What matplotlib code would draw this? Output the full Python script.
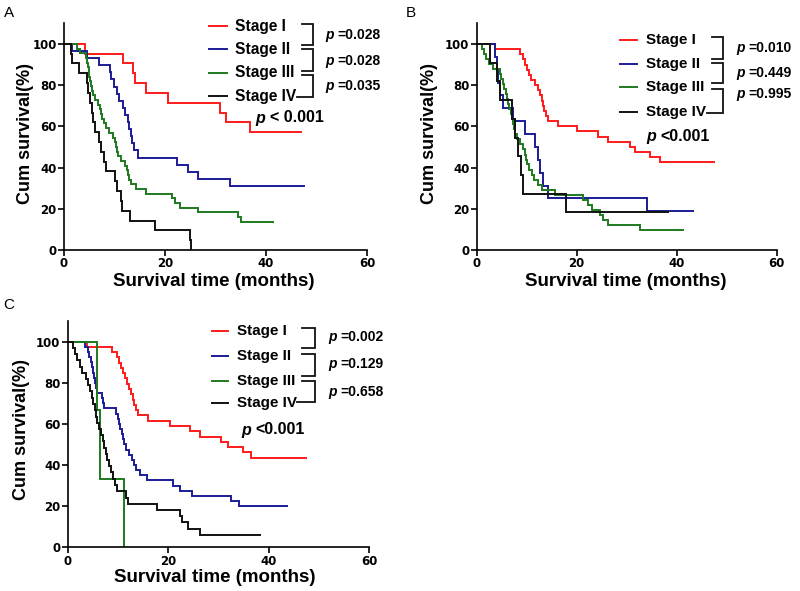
import matplotlib
matplotlib.use("Agg")
import matplotlib.pyplot as plt

plt.rcParams['font.family'] = ['Liberation Sans', 'DejaVu Sans']
plt.rcParams['font.weight'] = 'bold'

stages = ["Stage I", "Stage II", "Stage III", "Stage IV"]
colors = ["#FF1A1A", "#1C1C96", "#1E7A1E", "#111111"]
x_ticks = [0, 20, 40, 60]
y_ticks = [0, 20, 40, 60, 80, 100]

# ---------- Panel A (times in months, survival %) ----------
A_I_t = [4.2, 11.6, 13.7, 14.0, 16.3, 20.5, 30.9, 32.0, 36.8]
A_I_s = [95.2, 90.5, 85.7, 81.0, 76.2, 71.4, 66.7, 61.9, 57.1]
A_I_end = 46.9
A_II_t = [1.5, 4.5, 7.0, 9.1, 9.4, 9.9, 10.4, 10.9, 11.6, 12.1, 12.6, 12.9, 13.2, 13.5, 13.8, 14.6,
          22.3, 24.6, 26.6, 32.8]
A_II_s = [96.6, 93.1, 89.7, 86.2, 82.8, 79.3, 75.9, 72.4, 69.0, 65.5, 62.1, 58.6, 55.2, 51.7, 48.3, 44.8,
          41.4, 37.9, 34.5, 31.0]
A_II_end = 47.5
A_III_t = [2.5, 3.2, 4.3, 4.6, 4.7, 4.9, 5.0, 5.2, 5.4, 5.6, 5.8, 6.2, 6.8, 7.1, 7.3, 7.6, 7.9, 8.4, 9.0,
           9.7, 10.0, 10.2, 10.4, 10.7, 11.3, 12.0, 12.4, 12.6, 12.8, 13.3, 14.3, 16.3, 21.3, 22.0, 22.9,
           26.6, 34.5, 35.1]
A_III_s = [97.7, 95.5, 93.2, 90.9, 88.6, 86.4, 84.1, 81.8, 79.5, 77.3, 75.0, 72.7, 70.5, 68.2, 65.9, 63.6,
           61.4, 59.1, 56.8, 54.5, 52.3, 50.0, 47.7, 45.5, 43.2, 40.9, 38.6, 36.4, 34.1, 31.8, 29.5, 27.3,
           25.0, 22.7, 20.5, 18.2, 15.9, 13.6]
A_III_end = 41.3
A_IV_t = [1.3, 1.5, 3.0, 4.6, 4.8, 5.1, 5.5, 5.7, 6.1, 7.0, 7.4, 7.9, 8.3, 10.1, 10.4, 11.2, 11.4, 13.1,
          18.0, 24.9, 25.2]
A_IV_s = [95.2, 90.5, 85.7, 81.0, 76.2, 71.4, 66.7, 61.9, 57.1, 52.4, 47.6, 42.9, 38.1, 33.3, 28.6, 23.8,
          19.0, 14.3, 9.5, 4.8, 0.0]
A_IV_end = 25.2
A_pairs = ["=0.028", "=0.028", "=0.035"]
A_overall = "< 0.001"

# ---------- Panel B ----------
B_I_t = [3.7, 8.7, 9.2, 9.7, 10.1, 10.5, 10.9, 11.6, 12.3, 12.7, 13.0, 13.3, 13.5, 13.8, 14.2, 16.3,
         20.0, 24.3, 26.3, 30.7, 31.7, 34.7, 36.7]
B_I_s = [97.5, 95.0, 92.5, 90.0, 87.5, 85.0, 82.5, 80.0, 77.5, 75.0, 72.5, 70.0, 67.5, 65.0, 62.5, 60.0,
         57.5, 55.0, 52.5, 50.0, 47.5, 45.0, 42.5]
B_I_end = 47.5
B_II_t = [3.7, 4.0, 4.3, 4.7, 5.3, 7.3, 9.6, 11.6, 12.2, 12.7, 13.2, 14.3, 34.0]
B_II_s = [93.75, 87.5, 81.25, 75.0, 68.75, 62.5, 56.25, 50.0, 43.75, 37.5, 31.25, 25.0, 18.75]
B_II_end = 43.3
B_III_t = [1.0, 1.4, 1.9, 2.5, 3.2, 4.6, 4.9, 5.2, 5.5, 5.8, 6.0, 6.2, 6.5, 6.8, 7.0, 7.2, 7.4, 7.6, 8.0,
           8.6, 9.3, 9.6, 9.8, 10.0, 10.5, 11.0, 11.5, 12.3, 13.0, 15.7, 21.3, 22.3, 23.0, 24.7, 25.3,
           26.3, 32.7]
B_III_s = [97.6, 95.1, 92.7, 90.2, 87.8, 85.4, 82.9, 80.5, 78.0, 75.6, 73.2, 70.7, 68.3, 65.9, 63.4, 61.0,
           58.5, 56.1, 53.7, 51.2, 48.8, 46.3, 43.9, 41.5, 39.0, 36.6, 34.1, 31.7, 29.3, 26.8, 24.4, 22.0,
           19.5, 17.1, 14.6, 12.2, 9.8]
B_III_end = 41.3
B_IV_t = [2.7, 4.0, 4.7, 7.0, 7.7, 8.2, 8.8, 9.2, 17.8]
B_IV_s = [90.9, 81.8, 72.7, 63.6, 54.5, 45.5, 36.4, 27.3, 18.2]
B_IV_end = 38.3
B_pairs = ["=0.010", "=0.449", "=0.995"]
B_overall = "<0.001"

# ---------- Panel C ----------
C_I_t = [3.8, 8.8, 9.8, 10.2, 10.6, 11.0, 11.5, 11.9, 12.3, 12.7, 13.0, 13.3, 13.6, 13.9, 15.9, 20.3,
         24.3, 26.3, 30.6, 31.9, 34.9, 36.6]
C_I_s = [97.4, 94.9, 92.3, 89.7, 87.2, 84.6, 82.1, 79.5, 76.9, 74.4, 71.8, 69.2, 66.7, 64.1, 61.5, 59.0,
         56.4, 53.8, 51.3, 48.7, 46.2, 43.6]
C_I_end = 47.4
C_II_t = [3.5, 4.0, 4.3, 4.6, 4.9, 5.1, 5.3, 5.5, 5.7, 5.9, 6.8, 7.1, 7.3, 9.6, 10.0, 10.3, 10.5, 10.8,
          11.1, 11.3, 11.6, 12.2, 12.8, 13.2, 13.6, 14.4, 15.7, 21.0, 22.4, 24.8, 32.6, 34.2]
C_II_s = [97.5, 95.0, 92.5, 90.0, 87.5, 85.0, 82.5, 80.0, 77.5, 75.0, 72.5, 70.0, 67.5, 65.0, 62.5, 60.0,
          57.5, 55.0, 52.5, 50.0, 47.5, 45.0, 42.5, 40.0, 37.5, 35.0, 32.5, 30.0, 27.5, 25.0, 22.5, 20.0]
C_II_end = 43.6
C_III_t = [5.8, 6.4, 11.2]
C_III_s = [66.7, 33.3, 0.0]
C_III_end = 11.2
C_IV_t = [1.0, 1.5, 1.8, 2.4, 2.9, 3.7, 4.1, 4.4, 4.8, 5.1, 5.4, 5.6, 5.9, 6.3, 6.6, 7.0, 7.3, 7.6, 7.9,
          8.3, 8.7, 9.0, 9.4, 9.8, 11.6, 12.1, 17.7, 22.4, 22.8, 24.0, 26.3]
C_IV_s = [97.0, 93.9, 90.9, 87.9, 84.8, 81.8, 78.8, 75.8, 72.7, 69.7, 66.7, 63.6, 60.6, 57.6, 54.5, 51.5,
          48.5, 45.5, 42.4, 39.4, 36.4, 33.3, 30.3, 27.3, 24.2, 21.2, 18.2, 15.2, 12.1, 9.1, 6.1]
C_IV_end = 38.3
C_pairs = ["=0.002", "=0.129", "=0.658"]
C_overall = "<0.001"

W, H = 800, 591
fig = plt.figure(figsize=(W / 100, H / 100), dpi=100)


def px_axes(x0, x1, y0, ytop):
    return fig.add_axes([x0 / W, 1 - y0 / H, (x1 - x0) / W, (y0 - ytop) / H])


def draw_panel(ax, curves):
    for (t, s, end), c in zip(curves, colors):
        xs = [0.0] + list(t) + [end]
        ys = [100.0] + list(s) + [s[-1]]
        ax.step(xs, ys, where='post', color=c, lw=1.4, solid_joinstyle='miter')
    ax.set_xlim(0, 60)
    ax.set_ylim(0, 110)
    ax.set_xticks(x_ticks)
    ax.set_yticks(y_ticks)
    for sp in ['top', 'right']:
        ax.spines[sp].set_visible(False)
    for sp in ['left', 'bottom']:
        ax.spines[sp].set_linewidth(1.2)
    ax.tick_params(direction='out', length=4, width=1.2, labelsize=8.5, pad=1.2)
    for lab in ax.get_xticklabels() + ax.get_yticklabels():
        lab.set_fontweight('bold')
        lab.set_fontfamily('DejaVu Sans')
    ax.patch.set_alpha(0)


axA = px_axes(64, 367, 250, 23.3)
draw_panel(axA, [(A_I_t, A_I_s, A_I_end), (A_II_t, A_II_s, A_II_end),
                 (A_III_t, A_III_s, A_III_end), (A_IV_t, A_IV_s, A_IV_end)])
axB = px_axes(476.7, 776.7, 250, 23.3)
draw_panel(axB, [(B_I_t, B_I_s, B_I_end), (B_II_t, B_II_s, B_II_end),
                 (B_III_t, B_III_s, B_III_end), (B_IV_t, B_IV_s, B_IV_end)])
axC = px_axes(67.7, 369, 547.3, 321.1)
draw_panel(axC, [(C_I_t, C_I_s, C_I_end), (C_II_t, C_II_s, C_II_end),
                 (C_III_t, C_III_s, C_III_end), (C_IV_t, C_IV_s, C_IV_end)])

# overlay in pixel coordinates for annotations
ov = fig.add_axes([0, 0, 1, 1])
ov.set_xlim(0, W)
ov.set_ylim(H, 0)
ov.axis('off')

# axis labels
for (yx, yy, xx, xy) in [(26, 133, 214, 281), (429, 133, 626, 281), (21.5, 430, 215, 578)]:
    ov.text(yx, yy, "Cum survival(%)", rotation=90, ha='center', va='center', fontsize=13, fontweight='bold')
    ov.text(xx, xy, "Survival time (months)", ha='center', va='center', fontsize=13.5, fontweight='bold')

# panel letters
for letter, (lx, ly) in zip(["A", "B", "C"], [(9, 13), (411, 13), (9, 305)]):
    ov.text(lx, ly, letter, ha='center', va='center', fontsize=11, fontweight='normal')


def legend_block(line_x, text_x, rows, br_x0, br_x, brackets, p_x, eq_x, p_ys, pairs,
                 ov_x, ov_eq_x, ov_y, overall, fs=11.5):
    for lab, c, ry in zip(stages, colors, rows):
        ov.plot(line_x, [ry, ry], color=c, lw=1.4)
        ov.text(text_x, ry, lab, ha='left', va='center', fontsize=fs, fontweight='bold')
    for i, (b0, b1) in enumerate(brackets):
        x_start_bottom = br_x0 - 5 if i == 2 else br_x0
        ov.plot([br_x0, br_x, br_x, x_start_bottom], [b0, b0, b1, b1], color='#111111', lw=1.3,
                solid_joinstyle='miter')
    for py, txt in zip(p_ys, pairs):
        ov.text(p_x, py, "p", ha='left', va='center', fontsize=10, fontweight='bold', style='italic')
        ov.text(eq_x, py, txt, ha='left', va='center', fontsize=10, fontweight='bold')
    ov.text(ov_x, ov_y, "p", ha='left', va='center', fontsize=11.5, fontweight='bold', style='italic')
    ov.text(ov_eq_x, ov_y, overall, ha='left', va='center', fontsize=11.5, fontweight='bold')


legend_block([209, 227], 235, [26, 49.3, 72.7, 96], 301.7, 313.3,
             [(24, 45), (49.3, 71), (75, 97.3)], 325, 337.3, [35, 61, 86], A_pairs,
             255, 270, 118, A_overall, fs=11.2)
legend_block([620, 636.7], 646, [40, 64, 87.3, 111.7], 711.7, 723,
             [(37.3, 59.3), (62.7, 83.3), (89.3, 113.3)], 736.7, 748.3, [48.3, 72.7, 94], B_pairs,
             646.7, 660, 136.7, B_overall, fs=11)
legend_block([211.7, 228.3], 237.3, [331, 356, 381, 403.3], 301.7, 314.5,
             [(327.7, 348.3), (354.3, 375.7), (381, 402.3)], 328.3, 340, [336.7, 364, 392.3], C_pairs,
             241.7, 255, 430, C_overall, fs=11)

fig.savefig("out.png", dpi=100)
